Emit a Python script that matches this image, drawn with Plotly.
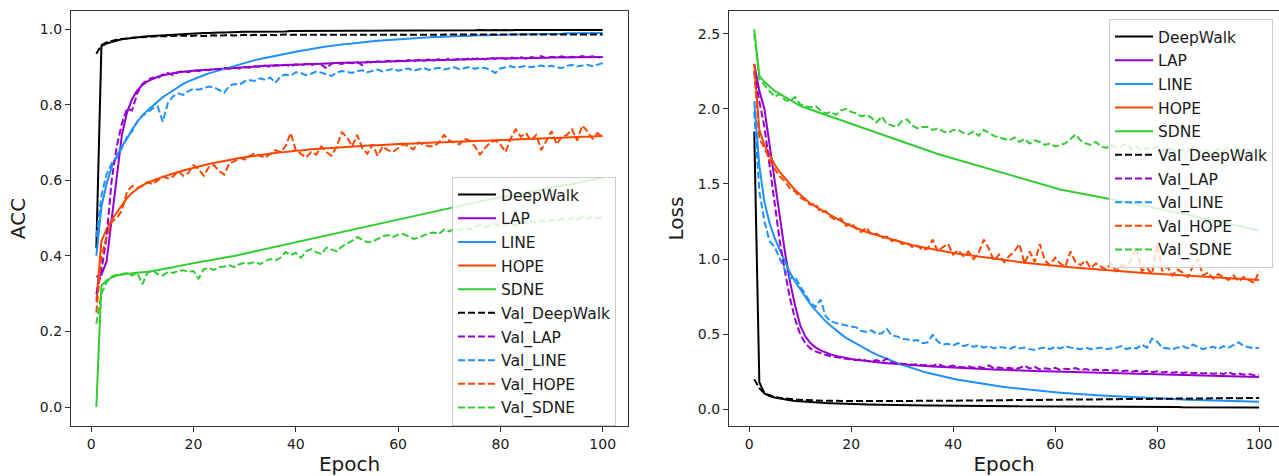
import plotly.graph_objects as go

epochs = list(range(1, 101))
models = ["DeepWalk", "LAP", "LINE", "HOPE", "SDNE"]
colors = ["#000000", "#9400d3", "#1e90ff", "#ff4500", "#32cd32"]
x_ticks = [0, 20, 40, 60, 80, 100]
acc_ticks = [0.0, 0.2, 0.4, 0.6, 0.8, 1.0]
loss_ticks = [0.0, 0.5, 1.0, 1.5, 2.0, 2.5]

# ---- training accuracy ----
acc_deepwalk = [
    0.42, 0.955, 0.962, 0.967, 0.970, 0.973, 0.975, 0.977, 0.978, 0.980,
    0.981, 0.982, 0.983, 0.984, 0.985, 0.986, 0.987, 0.987, 0.988, 0.989,
    0.989, 0.990, 0.990, 0.991, 0.991, 0.991, 0.992, 0.992, 0.992, 0.993,
    0.993, 0.993, 0.993, 0.994, 0.994, 0.994, 0.994, 0.994, 0.995, 0.995,
    0.995, 0.995, 0.995, 0.995, 0.996, 0.995, 0.996, 0.996, 0.996, 0.996,
    0.996, 0.996, 0.996, 0.996, 0.996, 0.997, 0.996, 0.996, 0.997, 0.996,
    0.997, 0.996, 0.997, 0.997, 0.996, 0.997, 0.997, 0.997, 0.997, 0.997,
    0.997, 0.997, 0.997, 0.997, 0.997, 0.998, 0.997, 0.997, 0.998, 0.997,
    0.998, 0.997, 0.998, 0.998, 0.997, 0.998, 0.998, 0.998, 0.998, 0.998,
    0.998, 0.998, 0.998, 0.998, 0.998, 0.998, 0.998, 0.998, 0.998, 0.998,
]
acc_lap = [
    0.345, 0.350, 0.385, 0.500, 0.620, 0.720, 0.780, 0.815, 0.838, 0.852,
    0.862, 0.869, 0.874, 0.878, 0.881, 0.884, 0.886, 0.887, 0.889, 0.890,
    0.891, 0.892, 0.893, 0.894, 0.895, 0.896, 0.897, 0.898, 0.899, 0.900,
    0.901, 0.902, 0.902, 0.903, 0.904, 0.904, 0.905, 0.905, 0.906, 0.906,
    0.907, 0.907, 0.908, 0.908, 0.909, 0.909, 0.910, 0.910, 0.911, 0.911,
    0.912, 0.912, 0.912, 0.913, 0.913, 0.914, 0.914, 0.915, 0.915, 0.915,
    0.916, 0.916, 0.917, 0.917, 0.917, 0.918, 0.918, 0.918, 0.919, 0.919,
    0.919, 0.920, 0.920, 0.920, 0.921, 0.921, 0.921, 0.922, 0.922, 0.922,
    0.922, 0.923, 0.923, 0.923, 0.923, 0.924, 0.924, 0.924, 0.924, 0.925,
    0.925, 0.925, 0.925, 0.925, 0.926, 0.926, 0.926, 0.926, 0.926, 0.926,
]
acc_line = [
    0.400, 0.530, 0.590, 0.635, 0.665, 0.690, 0.710, 0.735, 0.755, 0.772,
    0.785, 0.797, 0.809, 0.820, 0.829, 0.838, 0.847, 0.855, 0.862, 0.868,
    0.873, 0.878, 0.883, 0.887, 0.892, 0.896, 0.900, 0.904, 0.908, 0.912,
    0.915, 0.918, 0.921, 0.924, 0.927, 0.930, 0.933, 0.936, 0.938, 0.940,
    0.943, 0.945, 0.948, 0.950, 0.952, 0.954, 0.956, 0.958, 0.959, 0.961,
    0.962, 0.964, 0.965, 0.966, 0.968, 0.969, 0.970, 0.971, 0.972, 0.973,
    0.974, 0.975, 0.976, 0.977, 0.977, 0.978, 0.979, 0.979, 0.980, 0.981,
    0.981, 0.982, 0.982, 0.983, 0.983, 0.984, 0.984, 0.984, 0.985, 0.985,
    0.985, 0.986, 0.986, 0.986, 0.987, 0.987, 0.987, 0.987, 0.988, 0.988,
    0.988, 0.988, 0.989, 0.989, 0.989, 0.989, 0.989, 0.990, 0.990, 0.990,
]
acc_hope = [
    0.280, 0.440, 0.470, 0.495, 0.515, 0.535, 0.553, 0.567, 0.578, 0.587,
    0.594, 0.600, 0.604, 0.609, 0.614, 0.618, 0.622, 0.626, 0.630, 0.634,
    0.637, 0.640, 0.643, 0.646, 0.649, 0.651, 0.654, 0.656, 0.659, 0.661,
    0.663, 0.665, 0.667, 0.669, 0.670, 0.672, 0.674, 0.675, 0.677, 0.678,
    0.679, 0.681, 0.682, 0.683, 0.684, 0.685, 0.686, 0.687, 0.688, 0.689,
    0.690, 0.690, 0.691, 0.692, 0.693, 0.693, 0.694, 0.695, 0.695, 0.696,
    0.697, 0.697, 0.698, 0.698, 0.699, 0.700, 0.700, 0.701, 0.701, 0.702,
    0.702, 0.703, 0.703, 0.704, 0.704, 0.705, 0.705, 0.706, 0.706, 0.707,
    0.707, 0.708, 0.708, 0.709, 0.709, 0.710, 0.710, 0.711, 0.711, 0.712,
    0.712, 0.713, 0.713, 0.714, 0.714, 0.715, 0.715, 0.716, 0.716, 0.717,
]
acc_sdne = [
    0.000, 0.322, 0.335, 0.343, 0.348, 0.351, 0.353, 0.354, 0.355, 0.356,
    0.358, 0.360, 0.362, 0.365, 0.367, 0.370, 0.373, 0.376, 0.379, 0.382,
    0.384, 0.386, 0.388, 0.391, 0.393, 0.395, 0.398, 0.400, 0.403, 0.405,
    0.408, 0.411, 0.414, 0.417, 0.420, 0.424, 0.427, 0.430, 0.434, 0.437,
    0.440, 0.443, 0.446, 0.449, 0.452, 0.455, 0.458, 0.461, 0.464, 0.467,
    0.470, 0.473, 0.476, 0.479, 0.482, 0.485, 0.488, 0.491, 0.494, 0.497,
    0.500, 0.503, 0.506, 0.509, 0.512, 0.515, 0.518, 0.521, 0.524, 0.527,
    0.530, 0.533, 0.536, 0.538, 0.541, 0.544, 0.547, 0.549, 0.552, 0.555,
    0.558, 0.560, 0.563, 0.565, 0.568, 0.570, 0.573, 0.575, 0.578, 0.580,
    0.583, 0.586, 0.588, 0.591, 0.594, 0.596, 0.599, 0.601, 0.604, 0.606,
]

# ---- validation accuracy ----
val_acc_deepwalk = [
    0.935, 0.958, 0.965, 0.969, 0.972, 0.974, 0.976, 0.977, 0.978, 0.979,
    0.980, 0.980, 0.981, 0.981, 0.982, 0.981, 0.982, 0.983, 0.982, 0.983,
    0.983, 0.982, 0.983, 0.984, 0.983, 0.984, 0.984, 0.983, 0.984, 0.985,
    0.984, 0.985, 0.984, 0.985, 0.985, 0.984, 0.985, 0.986, 0.985, 0.985,
    0.986, 0.985, 0.985, 0.986, 0.985, 0.986, 0.986, 0.985, 0.986, 0.986,
    0.985, 0.986, 0.986, 0.985, 0.986, 0.986, 0.985, 0.986, 0.986, 0.986,
    0.985, 0.986, 0.986, 0.986, 0.985, 0.986, 0.986, 0.985, 0.986, 0.986,
    0.986, 0.985, 0.986, 0.986, 0.986, 0.985, 0.986, 0.986, 0.986, 0.985,
    0.986, 0.986, 0.985, 0.986, 0.986, 0.986, 0.985, 0.986, 0.986, 0.986,
    0.985, 0.986, 0.986, 0.986, 0.985, 0.986, 0.986, 0.986, 0.986, 0.986,
]
val_acc_lap = [
    0.300, 0.360, 0.450, 0.600, 0.690, 0.750, 0.790, 0.785, 0.830, 0.855,
    0.865, 0.872, 0.870, 0.880, 0.884, 0.878, 0.886, 0.889, 0.886, 0.891,
    0.889, 0.893, 0.891, 0.895, 0.893, 0.897, 0.895, 0.898, 0.896, 0.900,
    0.898, 0.902, 0.900, 0.904, 0.899, 0.905, 0.903, 0.906, 0.902, 0.907,
    0.905, 0.908, 0.904, 0.909, 0.906, 0.896, 0.909, 0.911, 0.908, 0.912,
    0.910, 0.913, 0.905, 0.914, 0.911, 0.915, 0.912, 0.916, 0.913, 0.917,
    0.914, 0.918, 0.915, 0.919, 0.916, 0.920, 0.917, 0.921, 0.918, 0.922,
    0.919, 0.922, 0.920, 0.923, 0.921, 0.924, 0.920, 0.924, 0.922, 0.925,
    0.921, 0.925, 0.923, 0.926, 0.922, 0.926, 0.924, 0.929, 0.923, 0.927,
    0.925, 0.928, 0.924, 0.927, 0.925, 0.929, 0.926, 0.928, 0.925, 0.927,
]
val_acc_line = [
    0.450, 0.560, 0.615, 0.645, 0.660, 0.685, 0.715, 0.730, 0.755, 0.770,
    0.780, 0.790, 0.795, 0.755, 0.805, 0.822, 0.830, 0.826, 0.836, 0.842,
    0.840, 0.845, 0.848, 0.846, 0.838, 0.832, 0.850, 0.855, 0.853, 0.862,
    0.865, 0.863, 0.870, 0.866, 0.872, 0.858, 0.875, 0.880, 0.877, 0.886,
    0.884, 0.878, 0.882, 0.888, 0.885, 0.880, 0.876, 0.885, 0.889, 0.887,
    0.884, 0.889, 0.891, 0.886, 0.890, 0.893, 0.888, 0.892, 0.895, 0.890,
    0.894, 0.896, 0.890, 0.893, 0.897, 0.892, 0.895, 0.898, 0.893, 0.897,
    0.899, 0.894, 0.898, 0.900, 0.895, 0.899, 0.897, 0.892, 0.884, 0.896,
    0.899, 0.902, 0.898, 0.901, 0.903, 0.899, 0.902, 0.904, 0.900, 0.903,
    0.899, 0.897, 0.903, 0.905, 0.901, 0.904, 0.906, 0.902, 0.907, 0.910,
]
val_acc_hope = [
    0.250, 0.400, 0.450, 0.490, 0.500, 0.520, 0.570, 0.585, 0.580, 0.585,
    0.595, 0.590, 0.600, 0.610, 0.605, 0.610, 0.625, 0.612, 0.620, 0.640,
    0.630, 0.612, 0.635, 0.640, 0.625, 0.615, 0.645, 0.650, 0.660, 0.655,
    0.665, 0.672, 0.665, 0.660, 0.670, 0.680, 0.675, 0.690, 0.725, 0.680,
    0.670, 0.660, 0.675, 0.668, 0.690, 0.675, 0.665, 0.690, 0.727, 0.715,
    0.690, 0.720, 0.685, 0.670, 0.695, 0.665, 0.690, 0.680, 0.675, 0.685,
    0.695, 0.690, 0.682, 0.700, 0.695, 0.690, 0.690, 0.700, 0.720, 0.705,
    0.700, 0.695, 0.710, 0.705, 0.690, 0.668, 0.685, 0.700, 0.705, 0.695,
    0.675, 0.710, 0.735, 0.715, 0.725, 0.705, 0.720, 0.680, 0.705, 0.730,
    0.695, 0.715, 0.720, 0.735, 0.705, 0.745, 0.730, 0.710, 0.725, 0.715,
]
val_acc_sdne = [
    0.220, 0.300, 0.330, 0.345, 0.350, 0.352, 0.355, 0.348, 0.356, 0.325,
    0.355, 0.362, 0.352, 0.348, 0.358, 0.355, 0.360, 0.362, 0.358, 0.360,
    0.340, 0.365, 0.368, 0.363, 0.370, 0.372, 0.375, 0.370, 0.378, 0.382,
    0.380, 0.384, 0.378, 0.386, 0.392, 0.388, 0.395, 0.410, 0.402, 0.408,
    0.395, 0.412, 0.418, 0.410, 0.405, 0.422, 0.418, 0.412, 0.425, 0.432,
    0.440, 0.450, 0.442, 0.436, 0.438, 0.445, 0.452, 0.455, 0.450, 0.456,
    0.458, 0.452, 0.445, 0.448, 0.455, 0.460, 0.462, 0.458, 0.470, 0.465,
    0.472, 0.468, 0.475, 0.470, 0.478, 0.482, 0.476, 0.480, 0.485, 0.478,
    0.483, 0.488, 0.480, 0.490, 0.486, 0.492, 0.488, 0.494, 0.490, 0.495,
    0.492, 0.498, 0.494, 0.500, 0.496, 0.503, 0.498, 0.505, 0.500, 0.503,
]

# ---- training loss ----
loss_deepwalk = [
    1.850, 0.180, 0.105, 0.088, 0.078, 0.070, 0.064, 0.059, 0.055, 0.052,
    0.049, 0.047, 0.045, 0.043, 0.041, 0.040, 0.038, 0.037, 0.036, 0.035,
    0.034, 0.033, 0.032, 0.031, 0.031, 0.030, 0.029, 0.029, 0.028, 0.028,
    0.027, 0.027, 0.026, 0.026, 0.025, 0.025, 0.025, 0.024, 0.024, 0.023,
    0.023, 0.023, 0.022, 0.022, 0.022, 0.021, 0.021, 0.021, 0.020, 0.020,
    0.020, 0.020, 0.019, 0.019, 0.019, 0.019, 0.018, 0.018, 0.018, 0.018,
    0.017, 0.017, 0.017, 0.017, 0.017, 0.016, 0.016, 0.016, 0.016, 0.016,
    0.016, 0.015, 0.015, 0.015, 0.015, 0.015, 0.015, 0.014, 0.014, 0.014,
    0.014, 0.014, 0.014, 0.014, 0.013, 0.013, 0.013, 0.013, 0.013, 0.013,
    0.013, 0.013, 0.012, 0.012, 0.012, 0.012, 0.012, 0.012, 0.012, 0.012,
]
loss_lap = [
    2.300, 2.120, 2.000, 1.760, 1.500, 1.270, 1.050, 0.850, 0.690, 0.560,
    0.485, 0.440, 0.412, 0.392, 0.377, 0.365, 0.355, 0.347, 0.340, 0.334,
    0.329, 0.324, 0.320, 0.316, 0.312, 0.309, 0.306, 0.303, 0.300, 0.297,
    0.295, 0.292, 0.290, 0.288, 0.286, 0.284, 0.282, 0.280, 0.278, 0.276,
    0.275, 0.273, 0.272, 0.270, 0.269, 0.267, 0.266, 0.264, 0.263, 0.262,
    0.260, 0.259, 0.258, 0.257, 0.256, 0.254, 0.253, 0.252, 0.251, 0.250,
    0.249, 0.248, 0.247, 0.246, 0.245, 0.244, 0.243, 0.242, 0.241, 0.240,
    0.239, 0.238, 0.237, 0.237, 0.236, 0.235, 0.234, 0.233, 0.232, 0.231,
    0.231, 0.230, 0.229, 0.228, 0.227, 0.226, 0.225, 0.225, 0.224, 0.223,
    0.222, 0.221, 0.220, 0.220, 0.219, 0.218, 0.217, 0.216, 0.215, 0.214,
]
loss_line = [
    2.050, 1.620, 1.380, 1.240, 1.140, 1.060, 0.980, 0.910, 0.850, 0.800,
    0.750, 0.700, 0.660, 0.620, 0.585, 0.555, 0.525, 0.500, 0.475, 0.455,
    0.435, 0.415, 0.397, 0.380, 0.363, 0.348, 0.334, 0.320, 0.308, 0.296,
    0.284, 0.273, 0.262, 0.252, 0.243, 0.234, 0.226, 0.218, 0.210, 0.203,
    0.196, 0.190, 0.184, 0.178, 0.172, 0.167, 0.162, 0.157, 0.152, 0.148,
    0.144, 0.140, 0.136, 0.132, 0.128, 0.125, 0.122, 0.119, 0.116, 0.113,
    0.110, 0.107, 0.105, 0.102, 0.100, 0.097, 0.095, 0.093, 0.091, 0.089,
    0.087, 0.085, 0.083, 0.081, 0.079, 0.078, 0.076, 0.074, 0.073, 0.071,
    0.070, 0.068, 0.067, 0.066, 0.064, 0.063, 0.062, 0.061, 0.060, 0.059,
    0.058, 0.057, 0.056, 0.055, 0.054, 0.053, 0.052, 0.051, 0.050, 0.049,
]
loss_hope = [
    2.300, 1.860, 1.760, 1.690, 1.630, 1.580, 1.540, 1.500, 1.460, 1.430,
    1.400, 1.370, 1.350, 1.330, 1.310, 1.290, 1.270, 1.250, 1.235, 1.220,
    1.205, 1.190, 1.180, 1.170, 1.160, 1.150, 1.140, 1.130, 1.120, 1.110,
    1.100, 1.092, 1.085, 1.078, 1.071, 1.064, 1.058, 1.052, 1.046, 1.040,
    1.035, 1.030, 1.025, 1.020, 1.015, 1.010, 1.005, 1.000, 0.996, 0.992,
    0.988, 0.984, 0.980, 0.976, 0.972, 0.968, 0.965, 0.962, 0.958, 0.955,
    0.952, 0.949, 0.946, 0.943, 0.940, 0.937, 0.934, 0.932, 0.929, 0.926,
    0.924, 0.921, 0.919, 0.916, 0.914, 0.911, 0.909, 0.906, 0.904, 0.902,
    0.900, 0.897, 0.895, 0.893, 0.891, 0.889, 0.887, 0.885, 0.883, 0.881,
    0.879, 0.877, 0.875, 0.873, 0.871, 0.869, 0.867, 0.865, 0.863, 0.861,
]
loss_sdne = [
    2.530, 2.220, 2.180, 2.150, 2.120, 2.100, 2.080, 2.060, 2.040, 2.020,
    2.008, 1.996, 1.985, 1.973, 1.961, 1.949, 1.938, 1.926, 1.914, 1.903,
    1.891, 1.880, 1.868, 1.855, 1.843, 1.831, 1.818, 1.806, 1.794, 1.782,
    1.769, 1.757, 1.745, 1.732, 1.720, 1.710, 1.700, 1.690, 1.680, 1.670,
    1.660, 1.650, 1.640, 1.630, 1.620, 1.610, 1.600, 1.590, 1.580, 1.570,
    1.560, 1.550, 1.540, 1.530, 1.520, 1.510, 1.500, 1.490, 1.480, 1.470,
    1.463, 1.457, 1.450, 1.444, 1.437, 1.431, 1.424, 1.418, 1.411, 1.405,
    1.398, 1.392, 1.385, 1.379, 1.372, 1.366, 1.359, 1.353, 1.346, 1.340,
    1.333, 1.325, 1.318, 1.310, 1.303, 1.295, 1.288, 1.280, 1.273, 1.265,
    1.258, 1.250, 1.243, 1.235, 1.228, 1.220, 1.213, 1.205, 1.198, 1.190,
]

# ---- validation loss ----
val_loss_deepwalk = [
    0.200, 0.140, 0.105, 0.092, 0.082, 0.076, 0.071, 0.067, 0.064, 0.062,
    0.060, 0.059, 0.058, 0.057, 0.056, 0.056, 0.055, 0.055, 0.055, 0.054,
    0.054, 0.055, 0.054, 0.054, 0.055, 0.054, 0.055, 0.054, 0.055, 0.055,
    0.055, 0.056, 0.055, 0.056, 0.056, 0.055, 0.056, 0.057, 0.056, 0.057,
    0.057, 0.058, 0.057, 0.058, 0.058, 0.059, 0.058, 0.059, 0.060, 0.059,
    0.060, 0.061, 0.060, 0.061, 0.062, 0.061, 0.062, 0.063, 0.062, 0.063,
    0.063, 0.064, 0.063, 0.064, 0.065, 0.064, 0.065, 0.066, 0.065, 0.066,
    0.066, 0.067, 0.066, 0.067, 0.068, 0.067, 0.068, 0.068, 0.069, 0.068,
    0.069, 0.070, 0.069, 0.070, 0.071, 0.070, 0.071, 0.072, 0.071, 0.072,
    0.072, 0.073, 0.072, 0.073, 0.074, 0.073, 0.074, 0.074, 0.075, 0.075,
]
val_loss_lap = [
    2.250, 2.050, 1.880, 1.620, 1.380, 1.120, 0.920, 0.740, 0.600, 0.500,
    0.440, 0.405, 0.385, 0.372, 0.362, 0.352, 0.348, 0.340, 0.336, 0.330,
    0.326, 0.334, 0.322, 0.318, 0.328, 0.315, 0.338, 0.310, 0.306, 0.302,
    0.300, 0.296, 0.299, 0.292, 0.295, 0.288, 0.302, 0.286, 0.284, 0.290,
    0.281, 0.279, 0.285, 0.276, 0.283, 0.275, 0.292, 0.273, 0.278, 0.271,
    0.276, 0.268, 0.274, 0.290, 0.270, 0.282, 0.265, 0.272, 0.268, 0.275,
    0.262, 0.270, 0.266, 0.274, 0.260, 0.268, 0.258, 0.264, 0.256, 0.262,
    0.255, 0.260, 0.252, 0.258, 0.250, 0.256, 0.248, 0.254, 0.246, 0.252,
    0.245, 0.250, 0.243, 0.248, 0.241, 0.246, 0.239, 0.244, 0.237, 0.242,
    0.236, 0.241, 0.234, 0.248, 0.232, 0.238, 0.230, 0.235, 0.226, 0.228,
]
val_loss_line = [
    1.980, 1.450, 1.250, 1.120, 1.080, 1.000, 0.930, 0.870, 0.880, 0.820,
    0.760, 0.710, 0.680, 0.730, 0.620, 0.585, 0.575, 0.565, 0.560, 0.550,
    0.545, 0.520, 0.515, 0.525, 0.500, 0.505, 0.535, 0.490, 0.485, 0.470,
    0.465, 0.455, 0.460, 0.440, 0.445, 0.495, 0.450, 0.430, 0.435, 0.425,
    0.440, 0.420, 0.430, 0.415, 0.425, 0.410, 0.420, 0.405, 0.415, 0.410,
    0.400, 0.415, 0.405, 0.410, 0.400, 0.395, 0.405, 0.410, 0.400, 0.415,
    0.405, 0.420, 0.410, 0.405, 0.400, 0.410, 0.400, 0.405, 0.410, 0.400,
    0.405, 0.410, 0.420, 0.400, 0.410, 0.405, 0.430, 0.410, 0.470, 0.450,
    0.410, 0.405, 0.400, 0.410, 0.420, 0.405, 0.430, 0.415, 0.400, 0.410,
    0.415, 0.400, 0.420, 0.410, 0.430, 0.445, 0.420, 0.410, 0.405, 0.410,
]
val_loss_hope = [
    2.250, 1.800, 1.740, 1.660, 1.600, 1.550, 1.520, 1.470, 1.450, 1.410,
    1.390, 1.360, 1.370, 1.310, 1.320, 1.280, 1.260, 1.270, 1.220, 1.240,
    1.200, 1.180, 1.210, 1.160, 1.170, 1.140, 1.150, 1.120, 1.130, 1.100,
    1.110, 1.080, 1.090, 1.060, 1.070, 1.130, 1.050, 1.080, 1.100, 1.030,
    1.060, 1.020, 1.050, 1.000, 1.040, 1.130, 1.070, 0.990, 1.030, 0.980,
    1.020, 1.050, 1.100, 0.970, 1.050, 0.980, 1.100, 0.990, 0.960, 1.010,
    0.970, 0.950, 1.050, 0.980, 0.960, 0.990, 0.940, 0.970, 0.950, 0.930,
    0.970, 0.920, 0.960, 0.950, 1.000, 1.080, 0.920, 0.940, 0.900, 1.100,
    0.920, 0.950, 0.890, 0.930, 0.910, 0.880, 0.950, 1.000, 0.890, 0.910,
    0.870, 0.900, 0.880, 0.860, 0.890, 0.850, 0.880, 0.860, 0.840, 0.920,
]
val_loss_sdne = [
    2.500, 2.200, 2.160, 2.120, 2.080, 2.100, 2.060, 2.050, 2.080, 2.030,
    2.020, 2.010, 2.020, 1.990, 1.970, 1.980, 1.960, 1.990, 2.000, 1.980,
    1.970, 1.950, 1.960, 1.940, 1.910, 1.950, 1.900, 1.890, 1.880, 1.920,
    1.930, 1.890, 1.870, 1.880, 1.880, 1.860, 1.870, 1.850, 1.840, 1.860,
    1.860, 1.840, 1.830, 1.850, 1.820, 1.860, 1.840, 1.820, 1.810, 1.800,
    1.790, 1.810, 1.780, 1.800, 1.770, 1.790, 1.780, 1.760, 1.770, 1.750,
    1.760, 1.770, 1.800, 1.830, 1.790, 1.770, 1.760, 1.780, 1.750, 1.740,
    1.760, 1.740, 1.750, 1.770, 1.730, 1.750, 1.720, 1.740, 1.730, 1.750,
    1.720, 1.740, 1.730, 1.710, 1.730, 1.720, 1.740, 1.710, 1.730, 1.720,
    1.710, 1.730, 1.720, 1.740, 1.710, 1.720, 1.700, 1.720, 1.710, 1.720,
]

train_acc = [acc_deepwalk, acc_lap, acc_line, acc_hope, acc_sdne]
val_acc = [val_acc_deepwalk, val_acc_lap, val_acc_line, val_acc_hope, val_acc_sdne]
train_loss = [loss_deepwalk, loss_lap, loss_line, loss_hope, loss_sdne]
val_loss = [val_loss_deepwalk, val_loss_lap, val_loss_line, val_loss_hope, val_loss_sdne]

FONT = "DejaVu Sans"
TEXT = "#1a1a1a"
LINE_W = 2.0
DASH = "7px,3px"

fig = go.Figure()


def add_panel(train, val, xaxis, yaxis, legend, tag):
    for i, (name, col) in enumerate(zip(models, colors)):
        fig.add_trace(go.Scatter(
            x=epochs, y=train[i], mode="lines", name=name,
            line=dict(color=col, width=LINE_W),
            xaxis=xaxis, yaxis=yaxis, legend=legend,
            legendgroup=f"{tag}_{name}",
        ))
    for i, (name, col) in enumerate(zip(models, colors)):
        fig.add_trace(go.Scatter(
            x=epochs, y=val[i], mode="lines", name="Val_" + name,
            line=dict(color=col, width=LINE_W, dash=DASH),
            xaxis=xaxis, yaxis=yaxis, legend=legend,
            legendgroup=f"{tag}_val_{name}",
        ))


add_panel(train_acc, val_acc, "x", "y", "legend", "acc")
add_panel(train_loss, val_loss, "x2", "y2", "legend2", "loss")

W, H = 1279, 476
axis_common = dict(
    showline=True, linecolor="#333333", linewidth=1.2,
    ticks="outside", ticklen=5, tickwidth=1.2, tickcolor="#333333",
    showgrid=False, zeroline=False,
    tickfont=dict(family=FONT, size=14, color=TEXT),
)
title_font = dict(family=FONT, size=20, color=TEXT)

legend_common = dict(
    font=dict(family=FONT, size=15.5, color=TEXT),
    bgcolor="rgba(255,255,255,0.8)", bordercolor="#cccccc", borderwidth=1,
    xanchor="left", yanchor="top", tracegroupgap=0.5, itemwidth=38,
    xref="paper", yref="paper",
)

fig.update_layout(
    width=W, height=H, autosize=False,
    margin=dict(l=0, r=0, t=0, b=0),
    paper_bgcolor="white", plot_bgcolor="white",
    showlegend=True,
    xaxis=dict(**axis_common, domain=[71 / W, 628 / W], range=[-3.95, 104.95],
               tickvals=x_ticks, mirror=True, anchor="y",
               title=dict(text="Epoch", font=title_font, standoff=8)),
    yaxis=dict(**axis_common, domain=[1 - 426 / H, 1 - 11 / H], range=[-0.05, 1.048],
               tickvals=acc_ticks, tickformat=".1f", mirror=True, anchor="x",
               title=dict(text="ACC", font=title_font, standoff=8)),
    xaxis2=dict(**axis_common, domain=[729 / W, 1.0], range=[-3.95, 103.9],
                tickvals=x_ticks, mirror=True, anchor="y2",
                title=dict(text="Epoch", font=title_font, standoff=8)),
    yaxis2=dict(**axis_common, domain=[1 - 426 / H, 1 - 11 / H], range=[-0.112, 2.652],
                tickvals=loss_ticks, tickformat=".1f", mirror=False, anchor="x2",
                title=dict(text="Loss", font=title_font, standoff=8)),
    legend=dict(**legend_common, x=452 / W, y=1 - 177 / H),
    legend2=dict(**legend_common, x=1109 / W, y=1 - 19 / H),
)

fig.write_html("out.html")
